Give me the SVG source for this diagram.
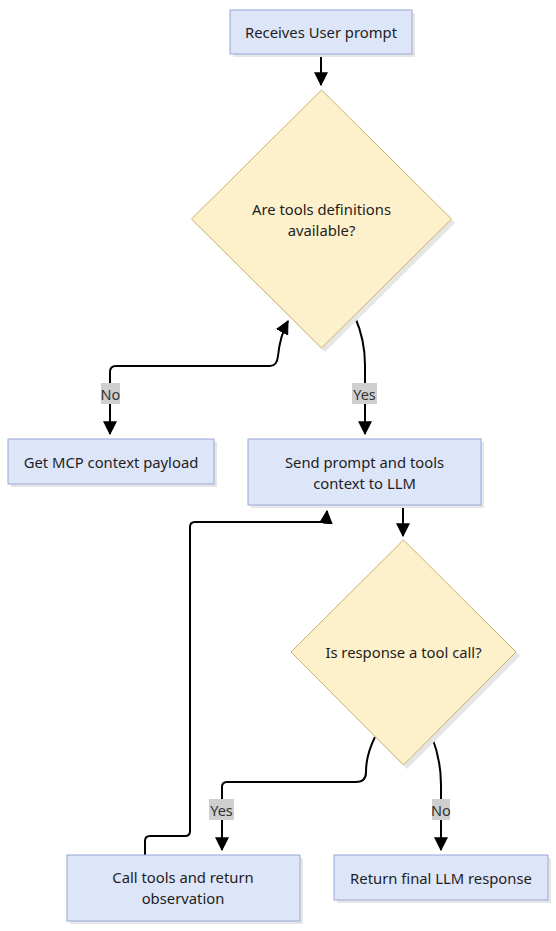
<svg xmlns="http://www.w3.org/2000/svg" width="556" height="931" viewBox="0 0 556 931">
<style>
  .box{fill:#dde5f8;stroke:#9aa6d6;stroke-width:1}
  .dia{fill:#fdf1cc;stroke:#c8b26f;stroke-width:1}
  .sh{fill:#e6e6e6}
  .t{font-family:"Noto Sans","Open Sans",sans-serif;font-size:14.8px;fill:#1e1e1e;text-anchor:middle;dominant-baseline:central}
  .edge{fill:none;stroke:#000;stroke-width:2}
  .lbg{fill:#cfcfcf}
  .lt{font-family:"Noto Sans","Open Sans",sans-serif;font-size:14.5px;fill:#333;text-anchor:middle;dominant-baseline:central}
</style>
<defs>
  <marker id="a" viewBox="0 0 12 12" refX="11" refY="6" markerWidth="14" markerHeight="14" markerUnits="userSpaceOnUse" orient="auto-start-reverse">
    <path d="M0,0 L12,6 L0,12 z" fill="#000"/>
  </marker>
</defs>
<g id="connectors">
  <path class="edge" d="M321,54 V85" marker-end="url(#a)"/>
  <path class="edge" d="M110,434 V372 Q110,366 116,366 H270 Q277,366 278,356 Q280,336 288,321" marker-end="url(#a)" marker-start="url(#a)"/>
  <path class="edge" d="M355,317 Q365,340 365,365 V434" marker-end="url(#a)"/>
  <path class="edge" d="M403,505 V536" marker-end="url(#a)"/>
  <path class="edge" d="M145,855 V841 Q145,836 150,836 H185 Q190,836 190,831 V527 Q190,522 195,522 H320 Q326,522 327,511" marker-end="url(#a)"/>
  <path class="edge" d="M375,737 Q366,755 366,772 Q366,782 356,782 H227 Q222,782 222,787 V850" marker-end="url(#a)"/>
  <path class="edge" d="M432,737 Q441,760 441,785 V850" marker-end="url(#a)"/>
  <rect class="lbg" x="101" y="383" width="19" height="21"/>
  <text class="lt" x="110.5" y="393.5">No</text>
  <rect class="lbg" x="352" y="383" width="25" height="21"/>
  <text class="lt" x="364.5" y="393.5">Yes</text>
  <rect class="lbg" x="209" y="799" width="25" height="21"/>
  <text class="lt" x="221.5" y="809.5">Yes</text>
  <rect class="lbg" x="432" y="799" width="18" height="21"/>
  <text class="lt" x="441" y="809.5">No</text>
</g>
<g id="n1">
  <rect class="sh" x="233" y="13" width="182" height="44"/>
  <rect class="box" x="230" y="10" width="182" height="44"/>
  <text class="t" x="321" y="32">Receives User prompt</text>
</g>
<g id="d1">
  <polygon class="sh" points="325,94 455,223 325,352 195,223"/>
  <polygon class="dia" points="321.5,90 451.5,219 321.5,348 191.5,219"/>
  <text class="t" x="321.5" y="209">Are tools definitions</text>
  <text class="t" x="321.5" y="229.5">available?</text>
</g>
<g id="n2">
  <rect class="sh" x="11" y="442" width="206" height="45"/>
  <rect class="box" x="8" y="439" width="206" height="45"/>
  <text class="t" x="111" y="462">Get MCP context payload</text>
</g>
<g id="n3">
  <rect class="sh" x="251" y="442" width="233" height="66"/>
  <rect class="box" x="248" y="439" width="233" height="66"/>
  <text class="t" x="364.5" y="462">Send prompt and tools</text>
  <text class="t" x="364.5" y="483">context to LLM</text>
</g>
<g id="d2">
  <polygon class="sh" points="407,544 520,656 407,769 295,656"/>
  <polygon class="dia" points="403.5,540 516,652 403.5,765 291,652"/>
  <text class="t" x="403.5" y="652">Is response a tool call?</text>
</g>
<g id="n4">
  <rect class="sh" x="70" y="858" width="233" height="66"/>
  <rect class="box" x="67" y="855" width="233" height="66"/>
  <text class="t" x="183" y="877">Call tools and return</text>
  <text class="t" x="183" y="898">observation</text>
</g>
<g id="n5">
  <rect class="sh" x="337" y="858" width="214" height="45"/>
  <rect class="box" x="334" y="855" width="214" height="45"/>
  <text class="t" x="441" y="877.5">Return final LLM response</text>
</g>
</svg>
